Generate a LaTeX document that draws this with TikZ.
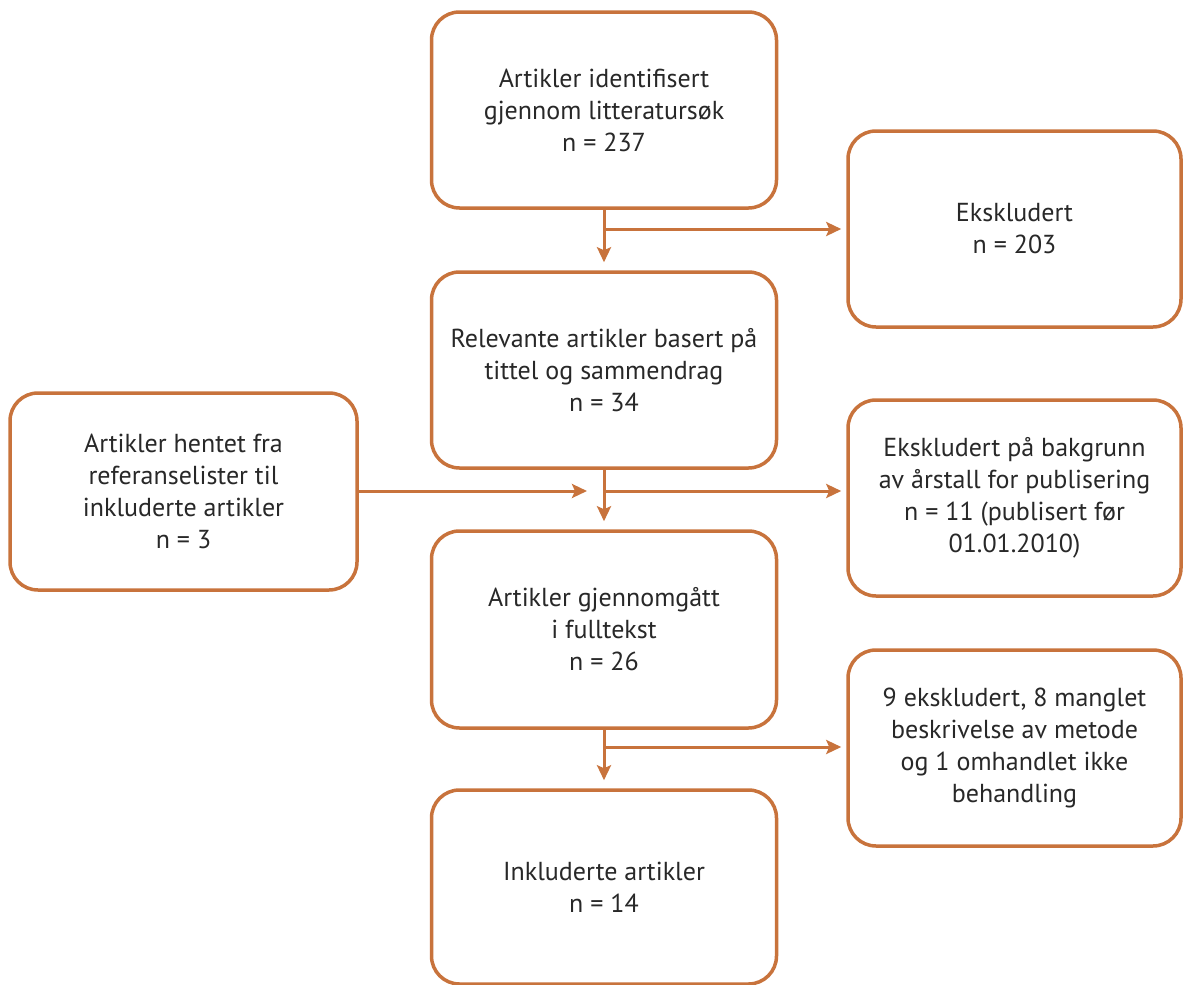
\documentclass[tikz,border=0pt]{standalone}
\usepackage{fontspec}
\setmainfont{PT Sans}
\usetikzlibrary{arrows.meta,positioning}
\definecolor{brd}{RGB}{200,115,60}
\definecolor{txt}{RGB}{40,40,40}
\tikzset{
  box/.style={draw=brd, line width=3.5pt, rounded corners=28pt, fill=white,
    minimum width=345pt, minimum height=196pt, align=center, text=txt,
    font=\fontsize{26pt}{32pt}\selectfont, inner sep=0pt},
  sidebox/.style={box, minimum width=333pt},
  arr/.style={draw=brd, line width=3pt, -{Stealth[length=15pt,width=14pt,inset=3pt]}},
  ln/.style={draw=brd, line width=3pt}
}
\begin{document}
\begin{tikzpicture}[x=1pt,y=-1pt]
\useasboundingbox (0,0) rectangle (1184,985);
\node[box] (A) at (604,110) {Artikler identifisert\\gjennom litteratursøk\\n = 237};
\node[sidebox] (E1) at (1014.5,229) {Ekskludert\\n = 203};
\node[box] (B) at (604,370) {Relevante artikler basert på\\tittel og sammendrag\\n = 34};
\node[box, minimum width=347pt, minimum height=197pt] (L) at (183.5,491.5) {Artikler hentet fra\\referanselister til\\inkluderte artikler\\n = 3};
\node[sidebox] (E2) at (1014.5,498) {Ekskludert på bakgrunn\\av årstall for publisering\\n = 11 (publisert før\\01.01.2010)};
\node[box, minimum height=197pt] (C) at (604,629.5) {Artikler gjennomgått\\i fulltekst\\n = 26};
\node[sidebox] (E3) at (1014.5,748) {9 ekskludert, 8 manglet\\beskrivelse av metode\\og 1 omhandlet ikke\\behandling};
\node[box, minimum height=194pt] (D) at (604,887) {Inkluderte artikler\\n = 14};
% junctions
\coordinate (j1) at (604,229);
\coordinate (j2) at (604,491);
\coordinate (j2l) at (587,491);
\coordinate (j3) at (604,747);
\draw[arr, shorten >=8pt] (A.south) -- (B.north);
\draw[arr, shorten >=5pt] (j1) -- (j1 -| E1.west);
\draw[arr, shorten >=8pt] (B.south) -- (C.north);
\draw[arr, shorten >=5pt] (j2) -- (j2 -| E2.west);
\draw[arr] (L.east |- j2l) -- (j2l);
\draw[arr, shorten >=8pt] (C.south) -- (D.north);
\draw[arr, shorten >=5pt] (j3) -- (j3 -| E3.west);
\end{tikzpicture}
\end{document}
